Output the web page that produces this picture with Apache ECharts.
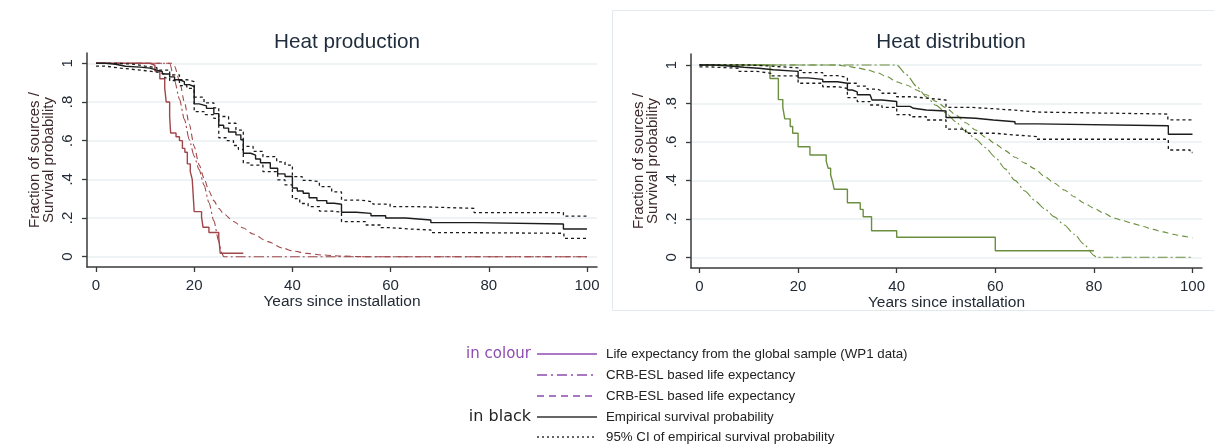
<!DOCTYPE html>
<html>
<head>
<meta charset="utf-8">
<script src="https://cdn.jsdelivr.net/npm/echarts@6/dist/echarts.min.js"></script>
<style>
html,body{margin:0;padding:0;background:#fff;}
#chart{width:1214px;height:447px;}
</style>
</head>
<body>
<div id="chart"></div>
<script>
// ---------- tick labels ----------
const xTicks = [0, 20, 40, 60, 80, 100];
const yTicks = [0, 0.2, 0.4, 0.6, 0.8, 1];
const panelTitles = ['Heat production', 'Heat distribution'];
const xAxisName = 'Years since installation';
const yAxisName = 'Fraction of sources /\nSurvival probability';

// ---------- Heat production (left) : [years, fraction] ----------
const heatProdGlobal = [[0,1],[11,0.99],[12,0.96],[13,0.92],[14,0.87],[14.3,0.80],[15,0.725],[15.2,0.64],[16.3,0.62],[17,0.60],[17.6,0.56],[18.1,0.54],[18.6,0.48],[19.2,0.44],[19.6,0.40],[20,0.233],[21.5,0.205],[21.8,0.152],[23,0.125],[25,0.10],[25.3,0.018],[30,0.018]];
const heatProdCrbDashDot = [[0,1],[15,1],[16,0.91],[17,0.815],[18,0.71],[19,0.605],[20,0.52],[21,0.45],[22,0.37],[23,0.28],[24,0.185],[25,0.08],[25.6,0.02],[26,0],[40,0],[100,0]];
const heatProdCrbDashed = [[0,1],[15.5,1],[16,0.985],[17,0.91],[18,0.80],[19,0.685],[20,0.57],[21,0.475],[22,0.405],[23,0.34],[24,0.29],[25,0.25],[26,0.222],[28,0.182],[30,0.148],[32,0.117],[35,0.078],[38,0.045],[40,0.03],[43,0.017],[46,0.009],[50,0.003],[55,0],[100,0]];
const heatProdEmp = [[0,1],[2,0.995],[4,0.985],[6,0.98],[9,0.975],[11,0.965],[12.4,0.957],[13.5,0.945],[15,0.93],[16,0.915],[17,0.905],[18,0.89],[19,0.88],[20,0.79],[21,0.78],[22.5,0.767],[24,0.74],[25,0.68],[26,0.665],[27,0.645],[28.5,0.63],[29.5,0.605],[30,0.535],[31.5,0.525],[32.5,0.505],[33.5,0.486],[35.5,0.457],[37,0.428],[38.5,0.415],[40,0.355],[41,0.34],[42.2,0.328],[43.4,0.305],[45,0.29],[47,0.276],[48.5,0.271],[50,0.23],[53,0.224],[56,0.212],[59,0.2],[63,0.19],[68.2,0.176],[77.2,0.169],[95.2,0.143],[100,0.143]];
const heatProdEmpUpper = [[0,1],[4,0.995],[8,0.985],[10,0.978],[12.4,0.965],[15,0.94],[17,0.915],[18.5,0.905],[20,0.825],[22,0.795],[24,0.77],[25,0.725],[27,0.69],[28.5,0.655],[30,0.57],[32,0.545],[34,0.517],[36.8,0.49],[38.5,0.474],[40,0.414],[42,0.395],[43.2,0.388],[45.5,0.362],[48,0.335],[50,0.293],[53.8,0.284],[56.4,0.272],[59.9,0.259],[65,0.25],[77,0.228],[95.2,0.21],[100,0.21]];
const heatProdEmpLower = [[0,0.985],[2,0.975],[5,0.965],[9,0.955],[12.4,0.945],[14,0.925],[15,0.91],[17,0.885],[18.5,0.87],[20,0.75],[22,0.735],[24,0.715],[25,0.615],[26.5,0.6],[28,0.575],[29,0.555],[30,0.485],[31.5,0.474],[34,0.44],[37,0.397],[38.5,0.371],[40,0.30],[41.5,0.275],[43.2,0.259],[45.5,0.236],[48,0.23],[50,0.181],[55,0.164],[58,0.15],[60,0.143],[64,0.138],[68.2,0.124],[77.2,0.121],[95.3,0.095],[100,0.095]];

// ---------- Heat distribution (right) : [years, fraction] ----------
const heatDistGlobal = [[0,1],[14.3,0.93],[16,0.82],[16.9,0.78],[17.3,0.72],[18.4,0.68],[18.9,0.645],[20,0.575],[22.4,0.532],[25.7,0.50],[26.1,0.463],[26.6,0.428],[27,0.393],[27.3,0.354],[30,0.284],[32.6,0.249],[33.2,0.211],[34.9,0.138],[40,0.104],[60,0.034],[80,0.034]];
const heatDistCrbDashDot = [[0,1],[40,1],[42,0.95],[44,0.89],[46,0.835],[48,0.79],[50,0.75],[52,0.705],[54,0.655],[56,0.615],[58,0.57],[60,0.52],[62,0.46],[64,0.40],[66,0.345],[68,0.295],[70,0.252],[72,0.21],[74,0.168],[76,0.12],[78,0.068],[80,0.01],[80.5,0],[100,0]];
const heatDistCrbDashed = [[0,1],[28,1],[30,0.993],[32,0.985],[34,0.975],[36,0.96],[38,0.94],[40,0.912],[42,0.896],[44,0.87],[46,0.845],[48,0.81],[50,0.777],[52,0.74],[54,0.70],[56,0.662],[58,0.625],[60,0.59],[62,0.555],[64,0.52],[66,0.49],[68,0.46],[70,0.42],[72,0.385],[74,0.35],[76,0.315],[78,0.282],[80,0.255],[82,0.23],[84,0.205],[86,0.19],[88,0.175],[90,0.16],[92,0.145],[94,0.132],[96,0.12],[98,0.11],[100,0.10]];
const heatDistEmp = [[0,1],[3,0.995],[6,0.988],[9,0.983],[12,0.975],[15,0.967],[20,0.933],[22,0.925],[25,0.913],[28,0.905],[30,0.87],[31,0.86],[32,0.845],[34.6,0.835],[35,0.818],[37,0.81],[40,0.785],[42.7,0.775],[43.4,0.766],[46,0.761],[50,0.727],[52.8,0.723],[56,0.714],[59.6,0.705],[64,0.694],[68.4,0.684],[95.1,0.64],[100,0.64]];
const heatDistEmpUpper = [[0,1],[10,0.995],[14,0.985],[20,0.972],[21,0.96],[25,0.945],[28,0.935],[30,0.905],[32,0.89],[34,0.875],[36,0.865],[37,0.853],[40,0.835],[43,0.828],[46,0.818],[50,0.78],[55,0.772],[60,0.765],[64,0.755],[69,0.745],[95,0.715],[100,0.715]];
const heatDistEmpLower = [[0,0.99],[2,0.983],[8,0.967],[11.6,0.957],[14.5,0.943],[20,0.905],[25,0.887],[28,0.878],[30,0.83],[32,0.81],[34.6,0.792],[37,0.78],[40,0.742],[42.7,0.731],[46,0.714],[50,0.667],[54,0.645],[60,0.636],[64,0.628],[68.4,0.614],[95.1,0.558],[99.5,0.545],[100,0.545]];

// ---------- legend texts ----------
const legendGroupLabels = ['in colour', 'in black'];
const legendItems = [
  'Life expectancy from the global sample (WP1 data)',
  'CRB-ESL based life expectancy',
  'CRB-ESL based life expectancy',
  'Empirical survival probability',
  '95% CI of empirical survival probability'
];

// ---------- styling ----------
const FONT = '"Liberation Sans", Arial, sans-serif';
const RED = '#a0464a';
const GREEN = '#6b8f3f';
const BLACK = '#1c1c1c';
const PURPLE = '#8e4bb0';
const TXT = '#222b36';
const AX = '#3a3a3a';
const DASHDOT = [10, 3, 2, 3];
const DASHED = [6, 4];
const DOTTED = [3, 3];

function yFmt(v) {
  if (Math.abs(v) < 1e-9) return '0';
  if (Math.abs(v - 1) < 1e-9) return '1';
  return v.toFixed(1).replace(/^0/, '');
}

function mkX(idx, min, max) {
  return {
    type: 'value', gridIndex: idx, min: min, max: max,
    axisLine: { show: true, onZero: false, lineStyle: { color: AX, width: 1.5 } },
    axisTick: { show: true, length: 5, customValues: xTicks, lineStyle: { color: AX, width: 1.3 } },
    axisLabel: { customValues: xTicks, margin: 11, fontSize: 15, color: TXT, fontFamily: FONT },
    splitLine: { show: false },
    name: xAxisName, nameLocation: 'middle', nameGap: 24,
    nameTextStyle: { fontSize: 15.5, color: TXT, fontFamily: FONT }
  };
}
function mkY(idx, min, max) {
  return {
    type: 'value', gridIndex: idx, min: min, max: max,
    axisLine: { show: true, onZero: false, lineStyle: { color: AX, width: 1.5 } },
    axisTick: { show: true, length: 5, customValues: yTicks, lineStyle: { color: AX, width: 1.3 } },
    axisLabel: { customValues: yTicks, rotate: 90, margin: 12, fontSize: 15, color: TXT, fontFamily: FONT, formatter: yFmt },
    splitLine: { show: true, lineStyle: { color: '#e8eff2', width: 1.5 } },
    name: yAxisName, nameLocation: 'middle', nameRotate: 90, nameGap: 31,
    nameTextStyle: { fontSize: 15, lineHeight: 14, color: '#3e2a2c', fontFamily: FONT, align: 'center' }
  };
}
function line(idx, data, color, type, step, width, z) {
  const s = {
    type: 'line', xAxisIndex: idx, yAxisIndex: idx, data: data,
    showSymbol: false, symbol: 'none', silent: true, z: z || 2,
    lineStyle: { color: color, type: type, width: width || 1.2 }
  };
  if (step) s.step = 'end'; else { s.smooth = 0.25; s.smoothMonotone = 'x'; }
  return s;
}

const series = [
  line(0, heatProdCrbDashed, RED, DASHED, false, 1.1),
  line(0, heatProdCrbDashDot, RED, DASHDOT, false, 1.1),
  line(0, heatProdGlobal, RED, 'solid', true, 1.4),
  line(0, heatProdEmpUpper, BLACK, DOTTED, true, 1.3, 3),
  line(0, heatProdEmpLower, BLACK, DOTTED, true, 1.3, 3),
  line(0, heatProdEmp, BLACK, 'solid', true, 1.4, 4),
  line(1, heatDistCrbDashed, GREEN, DASHED, false, 1.1),
  line(1, heatDistCrbDashDot, GREEN, DASHDOT, false, 1.1),
  line(1, heatDistGlobal, GREEN, 'solid', true, 1.4),
  line(1, heatDistEmpUpper, BLACK, DOTTED, true, 1.3, 3),
  line(1, heatDistEmpLower, BLACK, DOTTED, true, 1.3, 3),
  line(1, heatDistEmp, BLACK, 'solid', true, 1.4, 4)
];

// legend built from graphic elements
const legRows = [354, 375, 396, 417, 437];
const legStyles = [
  { color: PURPLE, dash: 'solid' },
  { color: PURPLE, dash: [10, 4, 2, 4] },
  { color: PURPLE, dash: [7, 5] },
  { color: '#333', dash: 'solid' },
  { color: '#333', dash: [2, 3] }
];
const graphic = [
  { type: 'rect', shape: { x: 612.5, y: 10.5, width: 620, height: 300 }, style: { fill: 'none', stroke: '#e3eaee', lineWidth: 1 }, silent: true }
];
legendItems.forEach(function (txt, i) {
  graphic.push({ type: 'line', shape: { x1: 537, y1: legRows[i], x2: 597, y2: legRows[i] },
    style: { stroke: legStyles[i].color, lineWidth: 1.4, lineDash: legStyles[i].dash === 'solid' ? null : legStyles[i].dash }, silent: true });
  graphic.push({ type: 'text', x: 606, y: legRows[i], style: { text: txt, fill: '#222', font: '13.3px ' + FONT, textVerticalAlign: 'middle', textAlign: 'left' }, silent: true });
});
graphic.push({ type: 'text', x: 531, y: legRows[0], style: { text: legendGroupLabels[0], fill: PURPLE, font: '15px "DejaVu Sans", sans-serif', textVerticalAlign: 'middle', textAlign: 'right' }, silent: true });
graphic.push({ type: 'text', x: 531, y: legRows[3], style: { text: legendGroupLabels[1], fill: '#222', font: '16px "DejaVu Sans", sans-serif', textVerticalAlign: 'middle', textAlign: 'right' }, silent: true });

const option = {
  animation: false,
  backgroundColor: '#fff',
  textStyle: { fontFamily: FONT },
  title: [
    { text: panelTitles[0], left: 342, top: 27, textAlign: 'center', textStyle: { fontSize: 20.7, fontWeight: 'normal', color: '#1f2c3c', fontFamily: FONT } },
    { text: panelTitles[1], left: 946, top: 27, textAlign: 'center', textStyle: { fontSize: 20.7, fontWeight: 'normal', color: '#1f2c3c', fontFamily: FONT } }
  ],
  grid: [
    { left: 87, top: 53, width: 510, height: 214 },
    { left: 691, top: 54, width: 511, height: 214 }
  ],
  xAxis: [mkX(0, -1.833, 102.04), mkX(1, -1.724, 101.93)],
  yAxis: [mkY(0, -0.0533, 1.0533), mkY(1, -0.0556, 1.0572)],
  series: series,
  graphic: graphic
};

const chart = echarts.init(document.getElementById('chart'), null, { renderer: 'canvas' });
chart.setOption(option);
</script>
</body>
</html>
